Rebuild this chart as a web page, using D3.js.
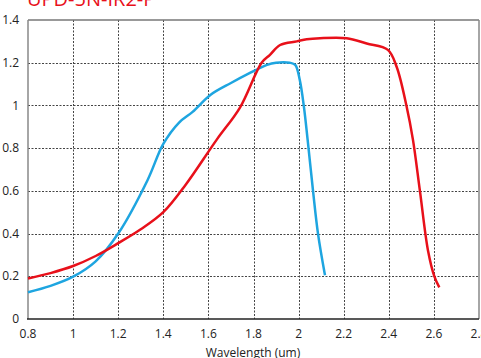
<!DOCTYPE html>
<html>
<head>
<meta charset="utf-8">
<script src="https://cdn.jsdelivr.net/npm/d3@7"></script>
<style>
  html, body { margin: 0; padding: 0; background: #fff; }
  svg { display: block; }
  text { font-family: "Open Sans", "Noto Sans", sans-serif; }
</style>
</head>
<body>
<svg id="chart" width="481" height="358"></svg>
<script>
// Spectral responsivity of the UPD-5N-IR2-P detector (A/W vs wavelength in µm)
const title = "UPD-5N-IR2-P";
const xTicks = [0.8, 1.0, 1.2, 1.4, 1.6, 1.8, 2.0, 2.2, 2.4, 2.6, 2.8];
const yTicks = [0, 0.2, 0.4, 0.6, 0.8, 1.0, 1.2, 1.4];

const blueWl  = [0.80, 0.90, 1.00, 1.10, 1.20, 1.33, 1.40, 1.47, 1.53, 1.61, 1.70, 1.78, 1.86, 1.90, 1.96, 1.985, 2.005, 2.024, 2.04, 2.064, 2.086, 2.117];
const blueVal = [0.125, 0.155, 0.198, 0.27, 0.40, 0.65, 0.82, 0.92, 0.97, 1.05, 1.105, 1.15, 1.19, 1.20, 1.20, 1.19, 1.12, 0.99, 0.84, 0.60, 0.40, 0.205];

const redWl  = [0.80, 0.90, 1.00, 1.10, 1.20, 1.30, 1.40, 1.50, 1.637, 1.74, 1.836, 1.873, 1.918, 1.992, 2.036, 2.095, 2.213, 2.302, 2.396, 2.435, 2.479, 2.507, 2.538, 2.574, 2.602, 2.624];
const redVal = [0.19, 0.215, 0.248, 0.295, 0.355, 0.42, 0.50, 0.63, 0.84, 0.99, 1.20, 1.237, 1.283, 1.30, 1.31, 1.315, 1.315, 1.29, 1.26, 1.18, 0.995, 0.84, 0.60, 0.32, 0.20, 0.148];

const svg = d3.select("#chart");
const x = d3.scaleLinear().domain([0.8, 2.8]).range([28, 479]);
const y = d3.scaleLinear().domain([0, 1.4]).range([319, 20]);

// grid
const grid = svg.append("g")
  .attr("stroke", "#444").attr("stroke-width", 1)
  .attr("stroke-dasharray", "2,1.5").attr("fill", "none");
xTicks.slice(1, -1).forEach(v => {
  grid.append("line").attr("x1", Math.round(x(v)) + 0.5).attr("x2", Math.round(x(v)) + 0.5)
    .attr("y1", y(1.4)).attr("y2", y(0));
});
yTicks.slice(1, -1).forEach(v => {
  grid.append("line").attr("y1", Math.round(y(v)) + 0.5).attr("y2", Math.round(y(v)) + 0.5)
    .attr("x1", x(0.8)).attr("x2", x(2.8));
});

// frame
svg.append("line").attr("x1", x(0.8)).attr("x2", x(2.8)).attr("y1", y(1.4)).attr("y2", y(1.4))
  .attr("stroke", "#777").attr("stroke-width", 1.5);
svg.append("line").attr("x1", x(2.8)).attr("x2", x(2.8)).attr("y1", y(1.4)).attr("y2", y(0))
  .attr("stroke", "#888").attr("stroke-width", 1.5);
svg.append("line").attr("x1", x(0.8)).attr("x2", x(0.8)).attr("y1", y(1.4)).attr("y2", y(0))
  .attr("stroke", "#888").attr("stroke-width", 1.5);
svg.append("line").attr("x1", x(0.8) - 1).attr("x2", x(2.8)).attr("y1", y(0)).attr("y2", y(0))
  .attr("stroke", "#222").attr("stroke-width", 1.5);

// tick labels
svg.append("g").selectAll("text").data(yTicks).join("text")
  .attr("x", 19).attr("y", d => y(d)).attr("dy", "0.35em")
  .attr("text-anchor", "end").attr("font-size", 12).attr("fill", "#222")
  .text(d => d3.format("~g")(d));
svg.append("g").selectAll("text").data(xTicks).join("text")
  .attr("x", d => x(d)).attr("y", 338)
  .attr("text-anchor", "middle").attr("font-size", 12).attr("fill", "#222")
  .text(d => d3.format("~g")(d));

svg.append("text").attr("x", 253).attr("y", 357).attr("text-anchor", "middle")
  .attr("font-size", 12).attr("fill", "#222").text("Wavelength (um)");

svg.append("text").attr("x", 27).attr("y", 6).attr("font-size", 20)
  .attr("fill", "#e8101a").text(title);

// curves
const line = d3.line().x(d => x(d[0])).y(d => y(d[1])).curve(d3.curveCatmullRom.alpha(0.5));
svg.append("path").datum(blueWl.map((w, i) => [w, blueVal[i]]))
  .attr("d", line).attr("fill", "none").attr("stroke", "#1ea5e0")
  .attr("stroke-width", 2.5).attr("stroke-linejoin", "round");
svg.append("path").datum(redWl.map((w, i) => [w, redVal[i]]))
  .attr("d", line).attr("fill", "none").attr("stroke", "#e8101a")
  .attr("stroke-width", 2.5).attr("stroke-linejoin", "round");
</script>
</body>
</html>
